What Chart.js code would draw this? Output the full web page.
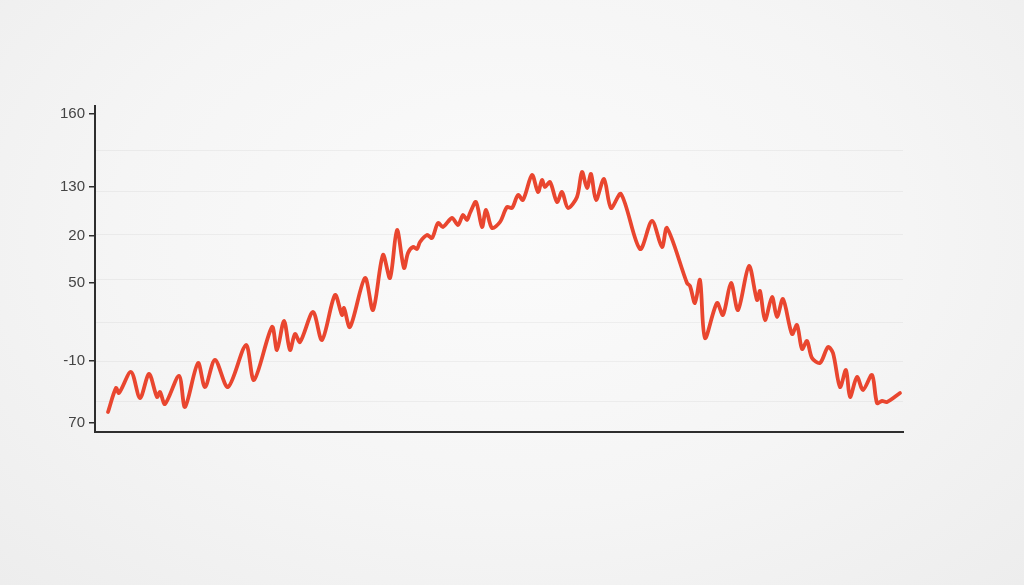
<!DOCTYPE html>
<html>
<head>
<meta charset="utf-8">
<title>Line chart</title>
<script src="https://cdn.jsdelivr.net/npm/chart.js@4/dist/chart.umd.min.js"></script>
<style>
    html, body {
        margin: 0;
        padding: 0;
        width: 1024px;
        height: 585px;
        overflow: hidden;
    }
    body {
        background: radial-gradient(ellipse at 50% 40%, #fbfbfb 0%, #f5f5f5 55%, #ededed 100%);
    }
    #chart {
        display: block;
    }
</style>
</head>
<body>
<canvas id="chart" width="1024" height="585"></canvas>
<script>
'use strict';

// x position of each reading (0 - 202 along the axis)
const xDays = [
    3.25, 5.25, 6, 9, 11.25, 13.5, 15.5, 16.25, 17.5, 21, 22.5, 25.75, 27.5, 30, 33.25,
    37.75, 39.75, 44.25, 45.5, 47.25, 48.75, 50, 51.25, 54.5, 56.75, 60, 61.75, 62.25,
    63.75, 67.5, 69.5, 72, 73.75, 75.5, 77.25, 78.25, 79.5, 80.5, 81.25, 83, 84.25,
    85.75, 87, 89.25, 90.75, 92, 93, 93.75, 95.25, 96.75, 97.75, 99.25, 101.25, 103,
    104.25, 105.75, 107, 109.25, 110.75, 111.75, 112.5, 113.75, 115.5, 116.75, 118.25,
    120.5, 121.75, 123, 124, 125.25, 127.25, 129, 131.5, 136.25, 139.25, 141.75, 143,
    148, 148.75, 150, 151.25, 152.5, 155.5, 157, 159, 160.75, 163.5, 165.5, 166.25,
    167.5, 169.25, 170.5, 172, 174.25, 175.5, 176.75, 178, 179.25, 181.25, 183.25,
    184.5, 186.25, 187.75, 188.75, 190.5, 192, 194.25, 195.5, 196.75, 198, 201.25
];

// reading values (0 - 163 on the internal scale)
const yValues = [
    10, 22, 19.5, 30, 17, 29, 17.5, 20, 14, 28, 12.5, 34.5, 22.5, 36, 22.5,
    43.5, 26, 52.5, 41, 55.5, 41, 49, 45, 60, 46, 68.5, 58.5, 62,
    52.5, 77, 61, 88.5, 77, 101, 82, 89.5, 92.5, 91.5, 95, 98.5, 97,
    104.5, 102.5, 107, 103.5, 108.5, 106, 109.5, 115, 102.5, 111, 102, 105, 112.5,
    112, 118.5, 116, 128.5, 120, 126, 122.5, 125, 115, 120, 112,
    117.5, 130, 122, 129, 116, 126.5, 112, 119, 91.5, 105.5, 92.5, 102,
    74.5, 73, 64.5, 76, 47, 64.5, 58.5, 74.5, 61, 83, 66, 70.5,
    56, 67.5, 57.5, 66.5, 49, 53.5, 41.5, 45.5, 37, 34.5, 42.5,
    39.5, 22.5, 31, 17.5, 27.5, 21, 28.5, 14.5, 15.5, 15, 19.5
];

// y axis tick labels and where they sit
const tickPos = [159, 122.5, 98, 74.5, 35.5, 4.5];
const tickLabels = ['160', '130', '20', '50', '-10', '70'];

// faint horizontal guide lines
const gridPos = [141, 120.5, 99, 76.5, 55, 35.5, 15.5];

const points = xDays.map((x, i) => ({ x: x, y: yValues[i] }));

const axisColor = '#2e2e2e';

let config = {
    type: 'line',
    data: {
        datasets: [{
            data: points,
            borderColor: '#e9462f',
            borderWidth: 3.8,
            pointRadius: 0,
            tension: 0.3,
            fill: false,
            borderCapStyle: 'round',
            borderJoinStyle: 'round'
        }]
    },
    options: {
        responsive: false,
        animation: false,
        layout: {
            padding: { left: 0, right: 121, top: 106, bottom: 153 }
        },
        plugins: {
            legend: { display: false },
            tooltip: { enabled: false }
        },
        scales: {
            x: {
                type: 'linear',
                min: 0,
                max: 202,
                ticks: { display: false },
                grid: { display: false },
                border: { display: true, color: axisColor, width: 2 },
                afterFit: function(scale) {
                    scale.height = 0;
                }
            },
            y: {
                type: 'linear',
                position: 'left',
                min: 0,
                max: 163,
                afterBuildTicks: function(scale) {
                    scale.ticks = tickPos.map(v => ({ value: v }));
                },
                afterFit: function(scale) {
                    scale.width = 95;
                },
                ticks: {
                    autoSkip: false,
                    padding: 4,
                    color: '#444444',
                    font: { family: '"Liberation Sans", Arial, sans-serif', size: 15 },
                    callback: function(value, index) {
                        return tickLabels[index];
                    }
                },
                grid: {
                    drawOnChartArea: false,
                    drawTicks: true,
                    tickLength: 6,
                    tickColor: axisColor,
                    lineWidth: 1.5
                },
                border: { display: true, color: axisColor, width: 2 }
            },
            yGrid: {
                type: 'linear',
                position: 'right',
                min: 0,
                max: 163,
                afterBuildTicks: function(scale) {
                    scale.ticks = gridPos.map(v => ({ value: v }));
                },
                afterFit: function(scale) {
                    scale.width = 0;
                },
                ticks: { display: false },
                grid: {
                    drawTicks: false,
                    color: 'rgba(0, 0, 0, 0.045)',
                    lineWidth: 1
                },
                border: { display: false }
            }
        }
    }
};

window.myLine = new Chart(document.getElementById('chart').getContext('2d'), config);
</script>
</body>
</html>
